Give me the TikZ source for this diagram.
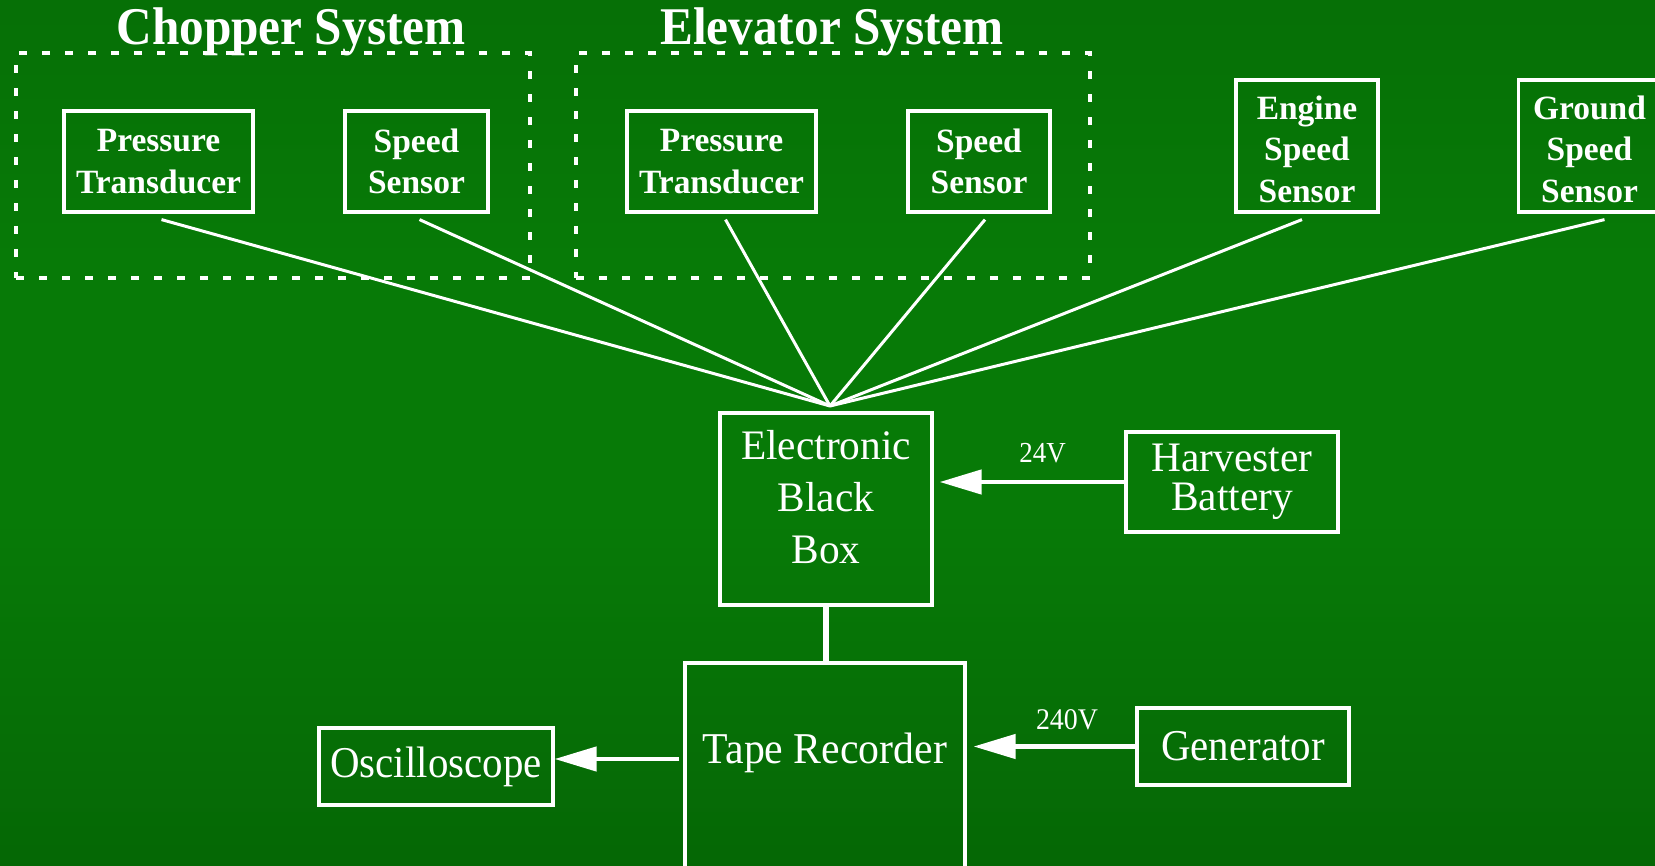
\documentclass[tikz,border=0pt]{standalone}
\usepackage{fontspec}
\setmainfont{Liberation Serif}[FakeStretch=0.93]
\newfontfamily\widefont{Liberation Serif}[FakeStretch=0.985]
\newfontfamily\tapefont{Liberation Serif}[FakeStretch=0.95]
\usetikzlibrary{arrows.meta,calc}
\definecolor{bgtop}{RGB}{4,94,4}
\definecolor{bgmid}{RGB}{7,122,7}
\definecolor{bgbot}{RGB}{3,80,3}
\pgfdeclareverticalshading{bgshade}{100bp}{color(0bp)=(bgbot); color(45bp)=(bgmid); color(60bp)=(bgmid); color(100bp)=(bgtop)}
\begin{document}
\begin{tikzpicture}[x=1pt,y=-1pt,
  every node/.style={text=white},
  box/.style={draw=white, line width=3.2pt, rectangle, inner sep=0pt, align=center},
  sens/.style={box, font=\widefont\bfseries\fontsize{34}{41.5}\selectfont},
  big/.style={box, font=\fontsize{44}{50}\selectfont},
  titletext/.style={font=\bfseries\fontsize{53}{60}\selectfont, anchor=base, inner sep=0pt},
  volt/.style={anchor=base, inner sep=0pt},
  wire/.style={draw=white, line width=3pt},
  feed/.style={draw=white, line width=4.5pt, -{Triangle[length=42pt,width=24pt]}},
  grp/.style={draw=white, line width=4pt, dash pattern=on 8pt off 15pt, rectangle, inner sep=0pt},
]
\shade[shading=bgshade] (0,0) rectangle (1655,866);
\useasboundingbox (0,0) rectangle (1655,866);
\clip (0,0) rectangle (1655,866);

% group frames
\node[grp, minimum width=514pt, minimum height=225pt] (chop) at (273,165.5) {};
\node[grp, minimum width=514pt, minimum height=225pt] (elev) at (833,165.5) {};
\node[titletext] (tchop) at (291,45) {Chopper System};
\node[titletext] (telev) at (832,45) {Elevator System};

% sensors
\node[sens, minimum width=189pt, minimum height=101pt] (cpt) at (158.5,161.5) {Pressure\\Transducer};
\node[sens, minimum width=143pt, minimum height=101pt] (css) at (416.5,161.5) {Speed\\Sensor};
\node[sens, minimum width=189pt, minimum height=101pt] (ept) at (721.5,161.5) {Pressure\\Transducer};
\node[sens, minimum width=142pt, minimum height=101pt] (ess) at (979,161.5) {Speed\\Sensor};
\node[sens, minimum width=142pt, minimum height=132pt] (eng) at (1307,146) {\rule{0pt}{30pt}Engine\\Speed\\Sensor};
\node[sens, minimum width=142pt, minimum height=132pt] (gnd) at (1589.5,146) {\rule{0pt}{30pt}Ground\\Speed\\Sensor};

% main blocks
\node[box, font=\widefont\fontsize{42}{51.7}\selectfont, minimum width=212pt, minimum height=192pt] (ebb) at (826,509) {Electronic\\Black\\Box\rule[-24pt]{0pt}{24pt}};
\node[box, font=\widefont\fontsize{42}{39.5}\selectfont, minimum width=212pt, minimum height=100pt] (hb) at (1232,482) {Harvester\\Battery};
\node[big, font=\tapefont\fontsize{44}{50}\selectfont, minimum width=280pt, minimum height=227pt] (tape) at (825,776.5) {Tape Recorder\rule[-57pt]{0pt}{57pt}};
\node[big, minimum width=234pt, minimum height=77pt] (osc) at (436,766.5) {Oscilloscope};
\node[big, minimum width=212pt, minimum height=77pt] (gen) at (1243,746.5) {Generator};

% sensor wires to hub
\coordinate (hub) at (830,406);
\draw[wire] ([xshift=3pt,yshift=-6pt]cpt.south) -- (hub);
\draw[wire] ([xshift=3pt,yshift=-6pt]css.south) -- (hub);
\draw[wire] ([xshift=4pt,yshift=-6pt]ept.south) -- (hub);
\draw[wire] ([xshift=6pt,yshift=-6pt]ess.south) -- (hub);
\draw[wire] ([xshift=-5pt,yshift=-6pt]eng.south) -- (hub);
\draw[wire] ([xshift=15pt,yshift=-6pt]gnd.south) -- (hub);

% power and signal connections
\draw[feed, shorten >=6pt] (hb.west) -- (hb.west -| ebb.east);
\node[volt, font=\fontsize{29}{33}\selectfont] (v24) at (1042.5,463) {24V};
\draw[feed, shorten >=7pt] (gen.west) -- (gen.west -| tape.east);
\node[volt, font=\fontsize{30}{34}\selectfont] (v240) at (1067,729) {240V};
\draw[feed, shorten <=4pt] ([yshift=7.5pt]osc.east -| tape.west) -- ([yshift=7.5pt]osc.east);
\draw[draw=white, line width=6pt] (ebb.south) -- (ebb.south |- tape.north);
\end{tikzpicture}
\end{document}
